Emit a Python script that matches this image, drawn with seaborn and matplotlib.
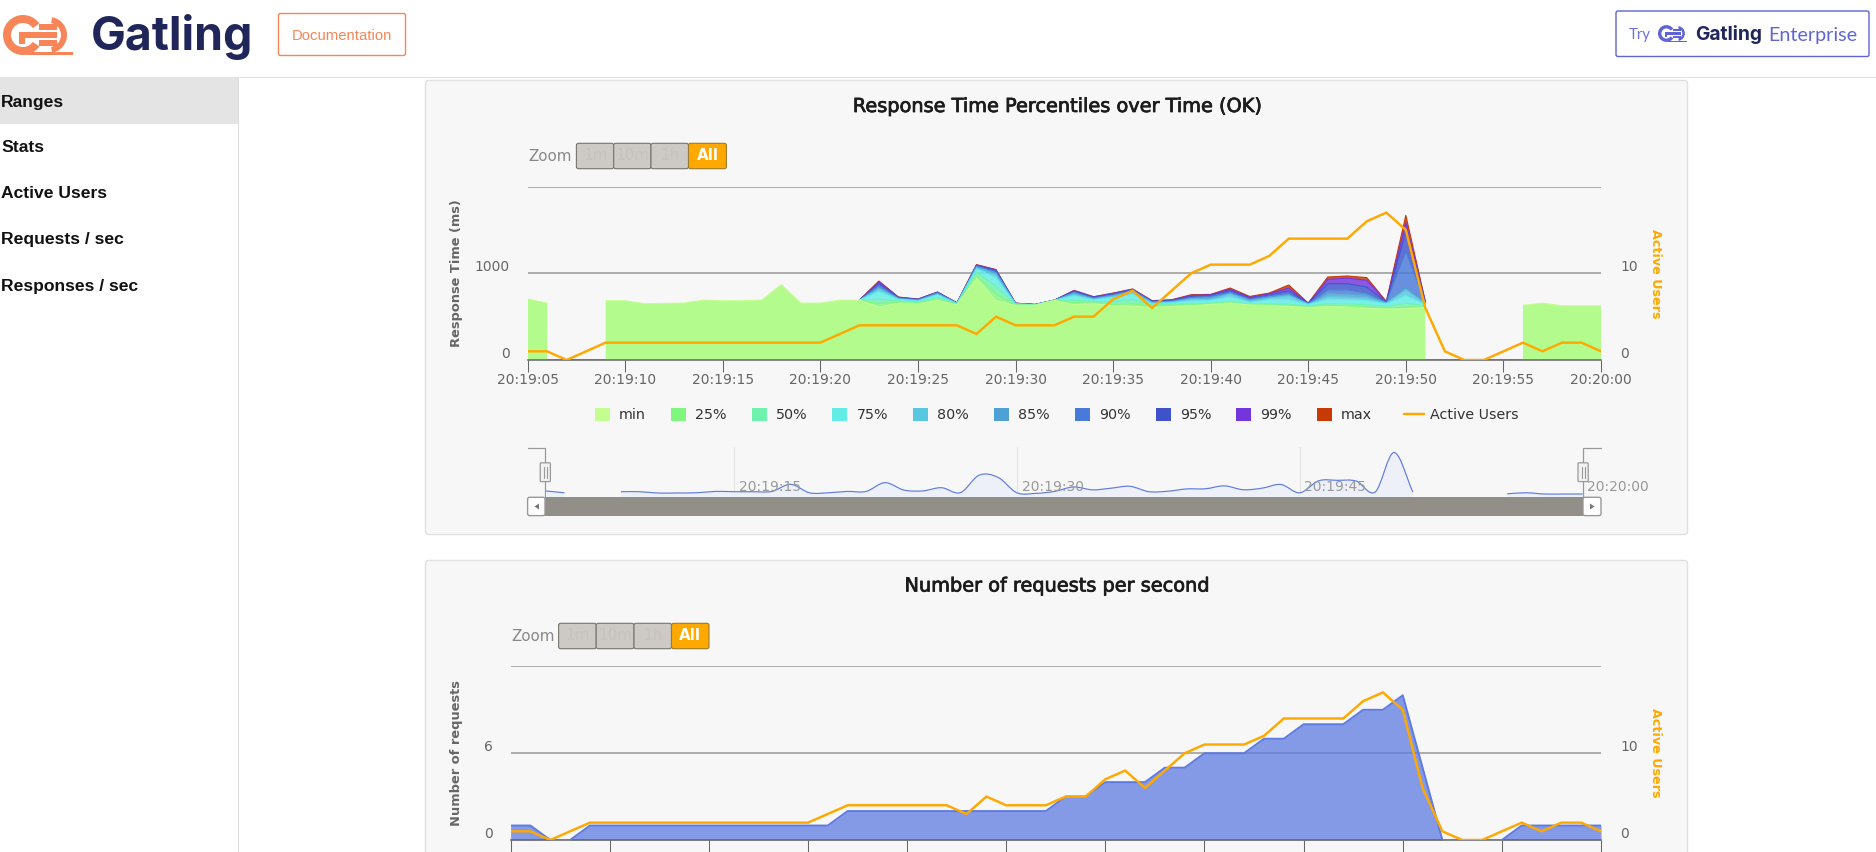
import numpy as np
import pandas as pd
import matplotlib
matplotlib.use("Agg")
import matplotlib.pyplot as plt
import seaborn as sns
from matplotlib.lines import Line2D
from matplotlib.patches import FancyBboxPatch, PathPatch, Polygon, Rectangle, Wedge, Patch
from matplotlib.path import Path
from matplotlib.transforms import ScaledTranslation
import matplotlib.patheffects as pe

W, H = 1876, 852
nan = float("nan")

seconds = list(range(5, 61))

# Response time percentiles (ms): shared flat stretches and the per-second middle part
rt_head = [703, 656, nan, nan, 683, 683, 649, 652, 656, 690, 683, 683, 690, 869, 656, 656, 690]
rt_tail = [nan, nan, nan, nan, 630, 656, 625, 625, 625]
rt_min = [690, 610, 656, 649, 687, 637, 946, 684, 630, 630, 687, 637, 649, 625, 618, 606, 618, 625, 641, 656, 635, 629, 618, 606, 618, 610, 595, 587, 590, 606]
rt_p25 = [690, 650, 665, 655, 695, 642, 975, 760, 634, 632, 688, 660, 660, 640, 650, 620, 630, 637, 648, 664, 637, 637, 625, 610, 630, 625, 610, 598, 610, 615]
rt_p50 = [690, 700, 680, 665, 720, 646, 1010, 850, 640, 634, 688, 690, 675, 670, 700, 632, 645, 645, 656, 675, 641, 648, 645, 620, 648, 648, 637, 618, 656, 625]
rt_p75 = [690, 790, 700, 680, 750, 650, 1050, 950, 646, 636, 689, 740, 695, 720, 760, 650, 660, 679, 687, 726, 664, 695, 695, 640, 702, 695, 687, 648, 741, 640]
rt_p80 = [690, 820, 705, 685, 760, 652, 1065, 985, 648, 637, 689, 760, 702, 735, 785, 658, 668, 703, 700, 760, 679, 714, 741, 645, 733, 726, 714, 656, 810, 650]
rt_p85 = [690, 840, 710, 690, 768, 654, 1075, 1005, 650, 638, 690, 775, 710, 745, 795, 665, 675, 710, 720, 772, 695, 726, 753, 648, 772, 764, 749, 660, 830, 660]
rt_p90 = [690, 860, 715, 694, 775, 656, 1085, 1020, 652, 639, 690, 785, 716, 755, 805, 672, 682, 722, 735, 784, 703, 741, 772, 650, 810, 810, 772, 664, 1255, 664]
rt_p95 = [690, 885, 720, 698, 780, 658, 1090, 1032, 654, 640, 690, 795, 722, 762, 812, 677, 688, 733, 745, 799, 710, 749, 799, 652, 880, 880, 841, 668, 1486, 668]
rt_p99 = [690, 903, 724, 701, 783, 659, 1096, 1040, 655, 640, 691, 800, 727, 768, 816, 681, 692, 745, 752, 818, 722, 764, 830, 654, 930, 945, 919, 671, 1583, 672]
rt_max = [690, 911, 726, 703, 784, 660, 1100, 1043, 656, 641, 691, 803, 730, 772, 819, 684, 695, 753, 757, 830, 733, 772, 865, 656, 957, 969, 950, 675, 1668, 675]

active_users = [1, 1, 0, 1, 2, 2, 2, 2, 2, 2, 2, 2, 2, 2, 2, 2, 3, 4, 4, 4, 4, 4, 4, 3, 5, 4, 4, 4, 5, 5, 7, 8, 6, 8, 10, 11, 11, 11, 12, 14, 14, 14, 14, 16, 17, 15, 6, 1, 0, 0, 1, 2, 1, 2, 2, 1]
requests = [1, 1, 0, 0, 1, 1, 1, 1, 1, 1, 1, 1, 1, 1, 1, 1, 1, 2, 2, 2, 2, 2, 2, 2, 2, 2, 2, 2, 3, 3, 4, 4, 4, 5, 5, 6, 6, 6, 7, 7, 8, 8, 8, 9, 9, 10, 5, 0, 0, 0, 0, 1, 1, 1, 1, 1]

layer_names = ["min", "25%", "50%", "75%", "80%", "85%", "90%", "95%", "99%", "max"]
layer_colors = ["#c4fd90", "#7ff77f", "#6ff2ad", "#61ede6", "#58c7e0", "#4ea1d4", "#487ad9", "#3f52cc", "#7335dc", "#c73905"]
users_color = "#FFA900"
requests_color = "#5E7BE2"
nav_ticks = [15, 30, 45, 60]
menu_items = ["Ranges", "Stats", "Active Users", "Requests / sec", "Responses / sec"]
zoom_buttons = ["1m", "10m", "1h", "All"]

sns.set_theme(style="white")
plt.rcParams["font.family"] = ["DejaVu Sans"]
plt.rcParams["axes.unicode_minus"] = False

frame = pd.DataFrame({"second": seconds, "users": active_users, "requests": requests})
layers = [np.array(rt_head + values + rt_tail, dtype=float)
          for values in (rt_min, rt_p25, rt_p50, rt_p75, rt_p80, rt_p85, rt_p90, rt_p95, rt_p99, rt_max)]


def box(x0, y0, x1, y1):
    return [x0 / W, 1 - y1 / H, (x1 - x0) / W, (y1 - y0) / H]


def clock(sec):
    return "20:20:00" if sec == 60 else f"20:19:{sec:02d}"


fig = plt.figure(figsize=(W / 100, H / 100), dpi=100, facecolor="white")

# Page chrome lives on a full-figure axes measured in pixels
page = fig.add_axes([0, 0, 1, 1], zorder=0)
page.set_xlim(0, W)
page.set_ylim(H, 0)
page.axis("off")


def rounded(x0, y0, x1, y1, face, edge, lw=1.0, radius=2, z=1):
    page.add_patch(FancyBboxPatch((x0, y0), x1 - x0, y1 - y0, boxstyle=f"round,pad=0,rounding_size={radius}",
                                  fc=face, ec=edge, lw=lw, zorder=z))


def logo(x, y, s, color):
    # Gear-and-G emblem built from arcs and bars
    page.add_patch(Wedge((x + 20 * s, y), 20 * s, 35, 325, width=8 * s, fc=color, ec="none", zorder=3))
    page.add_patch(Wedge((x + 46 * s, y), 18 * s, -80, 80, width=6 * s, fc=color, ec="none", zorder=3))
    for dy in (-8, 0, 8):
        page.add_patch(Rectangle((x + (18 if dy == 0 else 36) * s, y + (dy - 2.6) * s),
                                 (36 if dy == 0 else 18) * s, 5.2 * s, fc=color, ec="none", zorder=3))
    page.add_patch(Rectangle((x + 24 * s, y + 17 * s), 46 * s, 2.8 * s, fc=color, ec="none", zorder=3))
    page.add_patch(Rectangle((x + 16 * s, y - 2.6 * s), 6 * s, 12 * s, fc=color, ec="none", zorder=3))


page.add_patch(Rectangle((0, 77), W, 1.4, fc="#e2e2e2", ec="none"))
page.add_patch(Rectangle((0, 78), 237.8, 46, fc="#e4e4e4", ec="none"))
page.add_patch(Rectangle((238, 78), 1.1, H - 78, fc="#dddddd", ec="none"))
for label, yc in zip(menu_items, [102, 147.8, 193.8, 239.8, 286]):
    page.text(1, yc, label, family="Liberation Sans", fontsize=12.6, fontweight="bold", color="#111111", va="center")

logo(3, 35, 1.0, "#F78557")
page.text(91, 37, "Gatling", family="Inter", fontsize=33.5, fontweight="bold", color="#20255A", va="center")
rounded(278.5, 13.5, 405.5, 55.5, "white", "#F78557", lw=1.0)
page.text(342, 35.5, "Documentation", family="Liberation Sans", fontsize=10.7, color="#F78557", ha="center", va="center")

rounded(1616, 11, 1869, 56.5, "white", "#5F63D3", lw=1.0)
page.text(1629, 35.5, "Try", family="Lato", fontsize=10.8, color="#6B70D8", va="center")
logo(1658, 33.5, 0.42, "#5F63D3")
page.text(1695, 34.5, "Gatling", family="Inter", fontsize=13.8, fontweight="bold", color="#20255A", va="center")
page.text(1768, 35, "Enterprise", family="Lato", fontsize=14.2, color="#6065D4", va="center")

# Chart panels
rounded(425.5, 80.5, 1687.5, 534.5, "#f7f7f7", "#e0e0e0", lw=1.0, radius=3)
rounded(425.5, 560.5, 1687.5, 870, "#f7f7f7", "#e0e0e0", lw=1.0, radius=3)


def title(xc, yc, text):
    page.text(xc, yc, text, fontsize=13.9, color="#1c1c1c", ha="center", va="center",
              path_effects=[pe.withStroke(linewidth=0.55, foreground="#1c1c1c")])


def zoom_row(x_label, edges, yc):
    page.text(x_label, yc + 0.8, "Zoom", fontsize=10.9, color="#888888", va="center")
    for left, right, label in zip(edges[:-1], edges[1:], zoom_buttons):
        active = label == "All"
        rounded(left, yc - 12.7, right, yc + 12.7, "#FFA900" if active else "#cdc9c5",
                "#9a7a30" if active else "#77736d", lw=0.8, z=2)
        page.text((left + right) / 2, yc - 0.5, label, fontsize=10.9, ha="center", va="center", zorder=3,
                  color="white" if active else "#c6c2be", fontweight="bold" if active else "normal")


title(1056.5, 106.5, "Response Time Percentiles over Time (OK)")
title(1056.5, 586, "Number of requests per second")
zoom_row(528.5, [576.4, 613.7, 651, 688.5, 726.4], 156)
zoom_row(511, [558.6, 596.2, 634, 671.5, 709], 636)


def style_axes(ax, right_ax, left_ticks, left_labels, ylabel, show_xlabels, left_px, right_px):
    ax.set_xlim(5, 60)
    ax.set_facecolor("none")
    for name in ("top", "left", "right"):
        ax.spines[name].set_visible(False)
        right_ax.spines[name].set_visible(False)
    right_ax.spines["bottom"].set_visible(False)
    ax.spines["bottom"].set_color("#666666")
    ax.spines["bottom"].set_linewidth(1.1)
    ax.set_axisbelow(True)
    ax.set_xlabel("")
    ax.set_yticks(left_ticks)
    ax.set_yticklabels(left_labels)
    ax.yaxis.grid(True, color="#9c9c9c", linewidth=1.15)
    ax.xaxis.grid(False)
    ax.set_xticks(list(range(5, 61, 5)))
    ax.tick_params(axis="x", length=8.7, width=0.75, color="#666666", labelcolor="#666666", labelsize=10, pad=1.0,
                   bottom=True, labelbottom=show_xlabels)
    ax.tick_params(axis="y", length=0, labelsize=10, labelcolor="#666666", pad=13)
    if show_xlabels:
        ax.set_xticklabels([clock(s) for s in range(5, 61, 5)])
    ax.set_ylabel(ylabel, fontsize=9.4, fontweight="bold", color="#666666", va="center")
    ax.yaxis.set_label_coords((456.5 - left_px) / (right_px - left_px), 0.5)

    right_ax.set_ylim(0, 20)
    right_ax.set_yticks([0, 10, 20])
    right_ax.set_yticklabels(["0", "10", ""])
    right_ax.yaxis.grid(False)
    right_ax.xaxis.grid(False)
    right_ax.set_xlabel("")
    right_ax.tick_params(axis="y", length=0, labelsize=10, labelcolor="#666666", pad=14)
    right_ax.set_ylabel("Active Users", fontsize=9.2, fontweight="bold", color=users_color, rotation=270, va="center")
    right_ax.yaxis.set_label_coords((1656 - left_px) / (right_px - left_px), 0.5)

    # Value labels sit just above their grid lines
    lift = ScaledTranslation(0, 8 / 100, fig.dpi_scale_trans)
    for tick in ax.yaxis.get_major_ticks():
        tick.label1.set_transform(tick.label1.get_transform() + lift)
    for tick in right_ax.yaxis.get_major_ticks():
        tick.label2.set_transform(tick.label2.get_transform() + lift)


def users_line(right_ax):
    sns.lineplot(data=frame, x="second", y="users", ax=right_ax, color=users_color, linewidth=1.75,
                 legend=False, errorbar=None, solid_joinstyle="miter", zorder=6)


def spread_only(values, floor):
    # Keep an edge only around seconds where it separates from the floor series
    apart = values > floor
    near = apart | np.r_[apart[1:], False] | np.r_[False, apart[:-1]]
    return np.where(near, values, nan)


# Percentile chart: bands are painted from max down so the lower ones stay on top
ax1 = fig.add_axes(box(527.6, 186.6, 1601, 360), zorder=2)
ax1.set_ylim(0, 2000)
for k in range(len(layers) - 1, -1, -1):
    lower = layers[k - 1] if k else np.zeros(len(seconds))
    fill = "#b3fb8d" if k == 0 else layer_colors[k]
    ax1.fill_between(seconds, lower, layers[k], color=fill, alpha=1 if k == 0 else 0.82, linewidth=0, zorder=2 + (9 - k) * 0.01)
    edge = layers[k] if k == 0 else spread_only(layers[k], layers[0])
    ax1.plot(seconds, edge, color=layer_colors[k], linewidth=0.8, zorder=2.5 + (9 - k) * 0.01)
ax1r = ax1.twinx()
users_line(ax1r)
style_axes(ax1, ax1r, [0, 1000, 2000], ["0", "1000", ""], "Response Time (ms)", True, 527.6, 1601)

# Requests chart
ax2 = fig.add_axes(box(510.6, 666.4, 1601, 840), zorder=2)
ax2.set_ylim(0, 12)
ax2.fill_between(frame["second"], 0, frame["requests"], color=requests_color, alpha=0.75, linewidth=0, zorder=2)
sns.lineplot(data=frame, x="second", y="requests", ax=ax2, color=requests_color, linewidth=1.4,
             legend=False, errorbar=None, zorder=3)
ax2r = ax2.twinx()
users_line(ax2r)
style_axes(ax2, ax2r, [0, 6, 12], ["0", "6", ""], "Number of requests", False, 510.6, 1601)

# Legend: the swatches and the line use separate boxes because their keys differ in width
legend_pt = 10.3
font_px = legend_pt * 100 / 72
legend_common = dict(loc="center left", frameon=False, borderpad=0, borderaxespad=0, fontsize=legend_pt, labelcolor="#333333")
swatches = [Patch(facecolor=c, edgecolor="none", label=n) for n, c in zip(layer_names, layer_colors)]
fig.legend(handles=swatches, ncol=10, bbox_to_anchor=(594.8 / W, 1 - 414.8 / H),
           handlelength=15 / font_px, handleheight=15 / font_px, handletextpad=9 / font_px,
           columnspacing=25.2 / font_px, **legend_common)
fig.legend(handles=[Line2D([], [], color=users_color, linewidth=1.75, label="Active Users")], ncol=1,
           bbox_to_anchor=(1403.5 / W, 1 - 414.8 / H), handlelength=20 / font_px, handletextpad=7 / font_px,
           **legend_common)

# Range navigator under the percentile chart
nav = fig.add_axes(box(545.5, 447.3, 1582.6, 497), zorder=2)
nav.set_facecolor("none")
nav.set_xlim(5, 60)
nav.set_ylim(550, 1800)
nav.axis("off")


def smooth_path(xs, ys, close_to=None):
    # Catmull-Rom tangents turned into cubic Bezier segments
    xs, ys = np.asarray(xs, float), np.asarray(ys, float)
    dy = np.gradient(ys, xs) if len(xs) > 1 else np.zeros_like(ys)
    verts, codes = [(xs[0], ys[0])], [Path.MOVETO]
    for i in range(len(xs) - 1):
        h = (xs[i + 1] - xs[i]) / 3
        verts += [(xs[i] + h, ys[i] + h * dy[i]), (xs[i + 1] - h, ys[i + 1] - h * dy[i + 1]), (xs[i + 1], ys[i + 1])]
        codes += [Path.CURVE4] * 3
    if close_to is not None:
        verts += [(xs[-1], close_to), (xs[0], close_to), (xs[0], ys[0])]
        codes += [Path.LINETO, Path.LINETO, Path.CLOSEPOLY]
    return Path(verts, codes)


sec_arr = np.array(seconds)
top_arr = layers[-1]
valid = ~np.isnan(top_arr)
for run in np.split(np.arange(len(sec_arr)), np.where(np.diff(valid.astype(int)) != 0)[0] + 1):
    if valid[run[0]]:
        nav.add_patch(PathPatch(smooth_path(sec_arr[run], top_arr[run], close_to=550), fc="#eef0f9", ec="none", zorder=1))
        nav.add_patch(PathPatch(smooth_path(sec_arr[run], top_arr[run]), fc="none", ec="#5F7CE0", lw=0.85, zorder=2))
for sec in nav_ticks[:-1]:
    nav.axvline(sec, color="#e4e4e4", linewidth=0.8, zorder=0)
for sec in nav_ticks:
    nav.annotate(clock(sec), (sec, 0), xycoords=("data", "axes fraction"), xytext=(3.4, 7), textcoords="offset points",
                 fontsize=10, color="#999999", va="center", zorder=3, annotation_clip=False)

# Scrollbar and range handles
GRAY = "#999999"
page.add_patch(Rectangle((545, 497.2), 1038, 18.6, fc="#928f88", ec="none", zorder=2))
rounded(527.6, 497.3, 545, 515.6, "white", GRAY, lw=1.0, radius=2, z=3)
rounded(1583, 497.3, 1601, 515.6, "white", GRAY, lw=1.0, radius=2, z=3)
page.add_patch(Polygon([[539, 503.5], [539, 509.5], [534.5, 506.5]], fc="#777777", ec="none", zorder=4))
page.add_patch(Polygon([[1590, 503.5], [1590, 509.5], [1594.5, 506.5]], fc="#777777", ec="none", zorder=4))
for xv, xh in ((545.2, 528), (1583, 1601)):
    page.plot([xh, xv, xv], [447.5, 447.5, 497], color=GRAY, lw=0.9, zorder=4, solid_joinstyle="miter")
    rounded(xv - 5, 462.8, xv + 5.2, 481.6, "#f2f2f2", GRAY, lw=0.9, radius=1, z=5)
    page.plot([xv - 1.4, xv - 1.4], [467, 477.5], color=GRAY, lw=0.8, zorder=6)
    page.plot([xv + 1.6, xv + 1.6], [467, 477.5], color=GRAY, lw=0.8, zorder=6)

fig.savefig("out.png", dpi=100, facecolor="white")
